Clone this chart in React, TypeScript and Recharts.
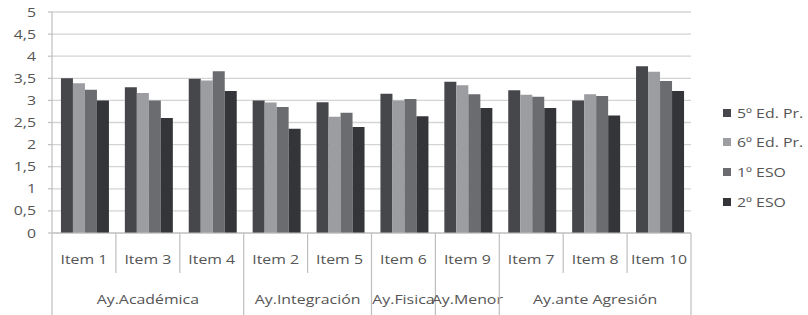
import React from 'react';
import { BarChart, Bar, XAxis, YAxis, CartesianGrid, Legend } from 'recharts';

const items = ['Item 1', 'Item 3', 'Item 4', 'Item 2', 'Item 5', 'Item 6', 'Item 9', 'Item 7', 'Item 8', 'Item 10'];
const groups = [
  'Ay.Académica', 'Ay.Académica', 'Ay.Académica',
  'Ay.Integración', 'Ay.Integración',
  'Ay.Fisica',
  'Ay.Menor',
  'Ay.ante Agresión', 'Ay.ante Agresión', 'Ay.ante Agresión',
];
const ed5 = [3.5, 3.3, 3.49, 3.0, 2.96, 3.15, 3.42, 3.23, 3.0, 3.77];
const ed6 = [3.39, 3.17, 3.45, 2.95, 2.63, 3.0, 3.34, 3.13, 3.14, 3.65];
const eso1 = [3.24, 3.0, 3.66, 2.85, 2.72, 3.03, 3.14, 3.08, 3.1, 3.44];
const eso2 = [3.0, 2.6, 3.21, 2.36, 2.4, 2.64, 2.83, 2.83, 2.66, 3.21];
const yTicks = [0, 0.5, 1, 1.5, 2, 2.5, 3, 3.5, 4, 4.5, 5];

const seriesNames = ['5º Ed. Pr.', '6º Ed. Pr.', '1º ESO', '2º ESO'];
const seriesKeys = ['ed5', 'ed6', 'eso1', 'eso2'];
const colors = ['#46474b', '#9b9da0', '#6b6c70', '#343539'];

const data = items.map((item, i) => ({
  item,
  group: groups[i],
  ed5: ed5[i],
  ed6: ed6[i],
  eso1: eso1[i],
  eso2: eso2[i],
}));

const W = 808;
const H = 315;
const X_AXIS_H = 82;
const MARGIN = { top: 12, right: 117, bottom: 0, left: 0 };
const Y_AXIS_W = 52;
const PLOT_W = W - MARGIN.right - MARGIN.left - Y_AXIS_W;
const BAND = PLOT_W / items.length;
const FONT = '"Open Sans", sans-serif';
const TEXT = '#555555';
const LINE = '#bfbfbf';
const STRETCH = 1.22;
const FS = 13;

const Stretched = ({ x, y, anchor, children }: any) => (
  <text
    transform={`translate(${x},${y}) scale(${STRETCH},1)`}
    x={0}
    y={0}
    textAnchor={anchor}
    fill={TEXT}
    fontSize={FS}
    fontFamily={FONT}
  >
    {children}
  </text>
);

const ItemTick = (props: any) => {
  const { x, y, payload } = props;
  const i: number = payload.index ?? props.index;
  const left = x - BAND / 2;
  const right = x + BAND / 2;
  const g = groups[i];
  const isGroupStart = i === 0 || groups[i - 1] !== g;
  const isLast = i === items.length - 1;
  let groupLabel = null;
  if (isGroupStart) {
    let n = 0;
    while (i + n < groups.length && groups[i + n] === g) n++;
    const cx = left + (n * BAND) / 2;
    groupLabel = (
      <Stretched x={cx} y={y + 71} anchor="middle">
        {g}
      </Stretched>
    );
  }
  return (
    <g>
      <line x1={left} x2={left} y1={y} y2={isGroupStart ? H : y + 40} stroke={LINE} strokeWidth={1.2} />
      {isLast && <line x1={right} x2={right} y1={y} y2={H} stroke={LINE} strokeWidth={1.2} />}
      <Stretched x={x} y={y + 31} anchor="middle">
        {payload.value}
      </Stretched>
      {groupLabel}
    </g>
  );
};

const ValueTick = (props: any) => {
  const { x, y, payload } = props;
  return (
    <Stretched x={x} y={y + 4.5} anchor="end">
      {String(payload.value).replace('.', ',')}
    </Stretched>
  );
};

const renderLegend = () => (
  <div style={{ fontFamily: FONT, fontSize: FS, color: TEXT }}>
    {seriesNames.map((name, i) => (
      <div key={name} style={{ height: 29.6, display: 'flex', alignItems: 'center', whiteSpace: 'nowrap' }}>
        <span style={{ display: 'inline-block', width: 8, height: 8, background: colors[i], marginRight: 6, flex: 'none' }} />
        <span style={{ display: 'inline-block', transform: `scaleX(${STRETCH})`, transformOrigin: 'left center' }}>{name}</span>
      </div>
    ))}
  </div>
);

export default function App() {
  return (
    <div style={{ position: 'absolute', left: 0, top: 0, width: W, height: H, background: '#fff' }}>
      <BarChart
        width={W}
        height={H}
        data={data}
        margin={MARGIN}
        barCategoryGap="14%"
        barGap={0}
      >
        <CartesianGrid vertical={false} stroke="#d4d4d4" strokeWidth={1.3} />
        <XAxis
          dataKey="item"
          interval={0}
          tickLine={false}
          tickSize={0}
          tickMargin={0}
          axisLine={{ stroke: LINE, strokeWidth: 1.2 }}
          tick={<ItemTick />}
          height={X_AXIS_H}
        />
        <YAxis
          width={Y_AXIS_W}
          domain={[0, 5]}
          ticks={yTicks}
          interval={0}
          tickSize={4}
          tickMargin={12}
          axisLine={{ stroke: LINE, strokeWidth: 1.2 }}
          tickLine={{ stroke: LINE, strokeWidth: 1.2 }}
          tick={<ValueTick />}
        />
        <Legend
          layout="vertical"
          align="center"
          verticalAlign="middle"
          wrapperStyle={{ position: 'absolute', left: 723, top: 98, width: 85, right: 'auto', bottom: 'auto' }}
          content={renderLegend}
        />
        {seriesKeys.map((k, i) => (
          <Bar key={k} dataKey={k} name={seriesNames[i]} fill={colors[i]} isAnimationActive={false} />
        ))}
      </BarChart>
    </div>
  );
}
